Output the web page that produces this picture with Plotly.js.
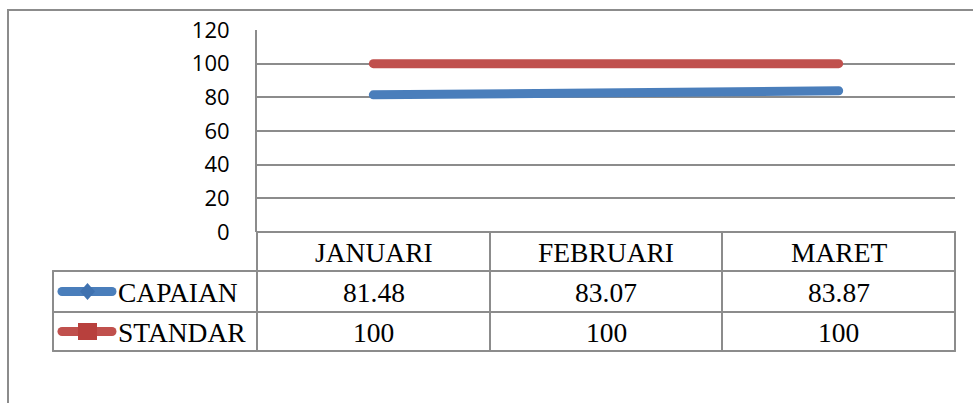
<!DOCTYPE html>
<html>
<head>
<meta charset="utf-8">
<script src="https://cdn.plot.ly/plotly-3.0.1.min.js"></script>
<style>
html,body{margin:0;padding:0;background:#fff;}
#chart{width:973px;height:403px;}
#chart .scatterlayer path.js-line{stroke-linecap:round;stroke-linejoin:round;}
#chart .shapelayer path{stroke-linecap:round;}
</style>
</head>
<body>
<div id="chart"></div>
<script>
const categories = ["JANUARI", "FEBRUARI", "MARET"];
const capaian = [81.48, 83.07, 83.87];
const standar = [100, 100, 100];
const seriesNames = ["CAPAIAN", "STANDAR"];
const yTicks = [0, 20, 40, 60, 80, 100, 120];

const W = 973, H = 403;
const L = 257, R = 955, T = 30, B = 232;
const pw = R - L, ph = B - T;
const px = x => (x - L) / pw;
const py = y => (B - y) / ph;

const gray = "#8c8c8c";
const blue = "#4a7ebb";
const red = "#c0504d";

const xIdx = categories.map((c, i) => i);

const traces = [
  {x: xIdx, y: capaian, name: seriesNames[0], type: "scatter", mode: "lines",
   line: {color: blue, width: 9}, hoverinfo: "skip"},
  {x: xIdx, y: standar, name: seriesNames[1], type: "scatter", mode: "lines",
   line: {color: red, width: 9}, hoverinfo: "skip"}
];

const shapes = [];
const annotations = [];
const lineStyle = {color: gray, width: 2};
function hline(x0, x1, y) {
  shapes.push({type: "line", xref: "paper", yref: "paper", x0: px(x0), x1: px(x1), y0: py(y), y1: py(y), line: lineStyle, layer: "above"});
}
function vline(x, y0, y1) {
  shapes.push({type: "line", xref: "paper", yref: "paper", x0: px(x), x1: px(x), y0: py(y0), y1: py(y1), line: lineStyle, layer: "above"});
}
// outer border
shapes.push({type: "rect", xref: "paper", yref: "paper", x0: px(8), x1: px(W + 20), y0: py(10), y1: py(H + 20), line: {color: gray, width: 2}, layer: "below"});

// table
const rowY = [232, 271, 312, 351];
const colX = [257, 490, 722, 955];
const legendLeft = 53;
hline(257, 955, rowY[0]);
hline(legendLeft, 955, rowY[1]);
hline(legendLeft, 955, rowY[2]);
hline(legendLeft, 955, rowY[3]);
vline(legendLeft, rowY[1], rowY[3]);
colX.forEach(x => vline(x, rowY[0], rowY[3]));

const tableFont = {family: "Liberation Serif", size: 27.5, color: "#000"};
categories.forEach((c, i) => {
  const cx = (colX[i] + colX[i + 1]) / 2;
  annotations.push({xref: "paper", yref: "paper", x: px(cx), y: py((rowY[0] + rowY[1]) / 2 + 1), text: c, showarrow: false, font: tableFont, xanchor: "center", yanchor: "middle"});
  annotations.push({xref: "paper", yref: "paper", x: px(cx), y: py((rowY[1] + rowY[2]) / 2 + 1), text: String(capaian[i]), showarrow: false, font: tableFont, xanchor: "center", yanchor: "middle"});
  annotations.push({xref: "paper", yref: "paper", x: px(cx), y: py((rowY[2] + rowY[3]) / 2 + 1), text: String(standar[i]), showarrow: false, font: tableFont, xanchor: "center", yanchor: "middle"});
});

// legend keys
const keyColors = [blue, red];
seriesNames.forEach((n, k) => {
  const cy = (rowY[k + 1] + rowY[k + 2]) / 2;
  shapes.push({type: "line", xref: "paper", yref: "paper", x0: px(62), x1: px(112), y0: py(cy), y1: py(cy), line: {color: keyColors[k], width: 9}, layer: "above"});
  const mx = 87.5;
  if (k === 0) {
    const sy = 8.5, sx = 7.5;
    shapes.push({type: "path", xref: "paper", yref: "paper",
      path: `M ${px(mx)} ${py(cy - sy)} L ${px(mx + sx)} ${py(cy)} L ${px(mx)} ${py(cy + sy)} L ${px(mx - sx)} ${py(cy)} Z`,
      fillcolor: "#3f72b0", line: {width: 0}, layer: "above"});
  } else {
    shapes.push({type: "rect", xref: "paper", yref: "paper", x0: px(mx - 9.5), x1: px(mx + 9.5), y0: py(cy - 8.5), y1: py(cy + 8.5),
      fillcolor: "#b8403d", line: {width: 0}, layer: "above"});
  }
  annotations.push({xref: "paper", yref: "paper", x: px(116), y: py(cy + 1), text: n, showarrow: false, font: tableFont, xanchor: "left", yanchor: "middle"});
});

const layout = {
  width: W, height: H,
  margin: {l: L, r: W - R, t: T, b: H - B, pad: 0},
  paper_bgcolor: "#fff", plot_bgcolor: "#fff",
  showlegend: false,
  xaxis: {range: [-0.5, categories.length - 0.5], showgrid: false, zeroline: false, showticklabels: false, showline: false, fixedrange: true},
  yaxis: {range: [0, 120], tickvals: yTicks, ticktext: yTicks.map(String), showgrid: true, gridcolor: gray, gridwidth: 2,
    zeroline: false, showline: true, linecolor: gray, linewidth: 2, ticks: "", ticklabelstandoff: 21,
    tickfont: {family: "Open Sans", size: 22, color: "#000"}, fixedrange: true},
  shapes: shapes,
  annotations: annotations
};

Plotly.newPlot("chart", traces, layout, {staticPlot: true, displayModeBar: false});
</script>
</body>
</html>
